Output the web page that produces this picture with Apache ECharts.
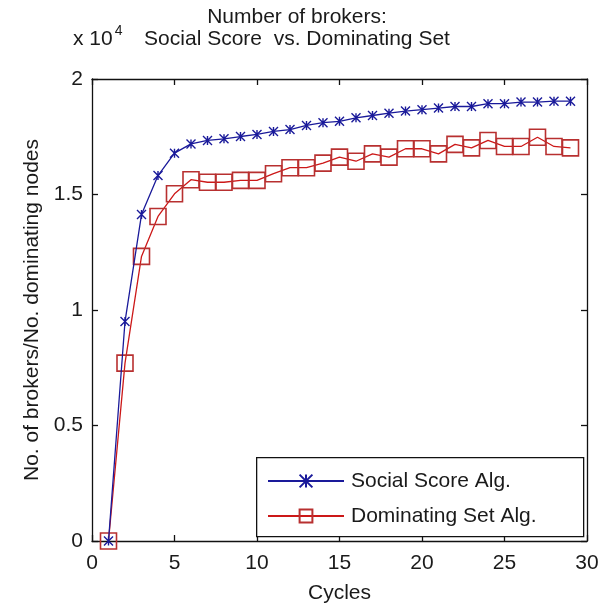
<!DOCTYPE html>
<html>
<head>
<meta charset="utf-8">
<script src="https://cdn.jsdelivr.net/npm/echarts@6/dist/echarts.min.js"></script>
<style>html,body{margin:0;padding:0;background:#fff;}#c{width:605px;height:609px;}</style>
</head>
<body>
<div id="c"></div>
<script>
var cycles = [1,2,3,4,5,6,7,8,9,10,11,12,13,14,15,16,17,18,19,20,21,22,23,24,25,26,27,28,29];
var socialScore = [0, 9500, 14130, 15820, 16790, 17190, 17340, 17410, 17510, 17600, 17730, 17810, 17990, 18110, 18170, 18320, 18420, 18520, 18610, 18670, 18740, 18810, 18810, 18930, 18930, 19000, 19000, 19040, 19040];
var dominatingSet = [0, 7700, 12320, 14050, 15030, 15640, 15530, 15530, 15610, 15610, 15900, 16160, 16160, 16360, 16620, 16440, 16760, 16620, 16980, 16980, 16760, 17170, 17020, 17340, 17080, 17080, 17480, 17080, 17020];
var xTicks = [0, 5, 10, 15, 20, 25, 30];
var yTicks = [0, 0.5, 1, 1.5, 2];
var seriesNames = ['Social Score Alg.', 'Dominating Set Alg.'];

var FONT = 'Liberation Sans, Arial, sans-serif';
var TXT = '#1a1a1a';
function pairs(ys){ return cycles.map(function(c,i){ return [c, ys[i]]; }); }

var chart = echarts.init(document.getElementById('c'), null, {renderer:'canvas'});
var axisCommon = {
  axisLine:{show:true, onZero:false, lineStyle:{color:'#111', width:1.3}},
  axisTick:{show:true, inside:true, length:6, lineStyle:{color:'#111', width:1.3}},
  splitLine:{show:false}
};
chart.setOption({
  animation:false,
  backgroundColor:'#fff',
  title:{
    text:'Number of brokers:\nSocial Score  vs. Dominating Set',
    left:292, top:1, textAlign:'center',
    textStyle:{fontFamily:FONT, fontSize:21, fontWeight:'normal', color:TXT, lineHeight:22}
  },
  graphic:[
    {type:'text', left:73, top:24, style:{
      text:'{a|x 10}{s|4}', fontFamily:FONT,
      rich:{a:{fontFamily:FONT, fontSize:21, fill:TXT, lineHeight:24, verticalAlign:'bottom'},
            s:{fontFamily:FONT, fontSize:14, fill:TXT, verticalAlign:'top', padding:[0,0,12,2]}}
    }},
    {type:'rect', left:256, top:457, shape:{width:327, height:79}, style:{fill:'#fff', stroke:'#111', lineWidth:1.3}, z:5}
  ],
  grid:{left:92, right:18, top:79, bottom:68, containLabel:false},
  xAxis:[
    Object.assign({type:'value', min:0, max:30, interval:5, position:'bottom',
      name:'Cycles', nameLocation:'middle', nameGap:42,
      nameTextStyle:{fontFamily:FONT, fontSize:21, color:TXT},
      axisLabel:{fontFamily:FONT, fontSize:21, color:TXT, margin:12,
        formatter:function(v){ return xTicks.indexOf(v)>=0 ? String(v) : ''; }}}, axisCommon),
    Object.assign({type:'value', min:0, max:30, interval:5, position:'top', axisLabel:{show:false}}, axisCommon)
  ],
  yAxis:[
    Object.assign({type:'value', min:0, max:20000, interval:5000, position:'left',
      name:'No. of brokers/No. dominating nodes', nameLocation:'middle', nameGap:46, nameRotate:90,
      nameTextStyle:{fontFamily:FONT, fontSize:21, color:TXT},
      axisLabel:{fontFamily:FONT, fontSize:21, color:TXT, margin:9,
        formatter:function(v){ var t=v/10000; return yTicks.indexOf(t)>=0 ? String(t) : ''; }}}, axisCommon),
    Object.assign({type:'value', min:0, max:20000, interval:5000, position:'right', axisLabel:{show:false}}, axisCommon)
  ],
  legend:{
    show:true, orient:'vertical', left:262, top:464, z:10,
    itemWidth:76, itemHeight:16, itemGap:11,
    data:seriesNames,
    textStyle:{fontFamily:FONT, fontSize:21, color:TXT, lineHeight:24, padding:[0,0,0,2]}
  },
  series:[
    {name:seriesNames[0], type:'line', data:pairs(socialScore), xAxisIndex:0, yAxisIndex:0,
      lineStyle:{color:'#1a1a9a', width:1.3}, itemStyle:{color:'#1a1a9a', borderColor:'#1a1a9a', borderWidth:1.4},
      symbol:'path://M0,0L10,10M10,0L0,10M5,0L5,10', symbolSize:[9,9], showAllSymbol:true, z:3},
    {name:seriesNames[1], type:'line', data:pairs(dominatingSet), xAxisIndex:0, yAxisIndex:0,
      lineStyle:{color:'#cc1818', width:1.3}, itemStyle:{color:'rgba(0,0,0,0)', borderColor:'#b83030', borderWidth:1.6},
      symbol:'rect', symbolSize:16, showAllSymbol:true, z:2}
  ]
});
</script>
</body>
</html>
